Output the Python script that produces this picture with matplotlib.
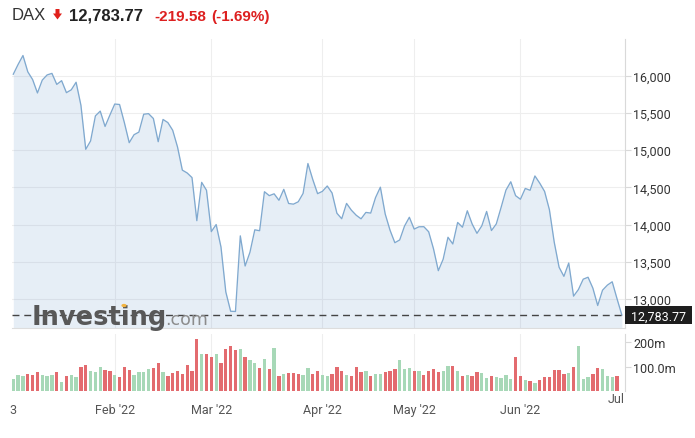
import matplotlib.pyplot as plt
from matplotlib.patches import Polygon, Rectangle, Circle
from matplotlib.transforms import blended_transform_factory
from matplotlib.ticker import FuncFormatter

# DAX daily closes, Jan 3 - Jun 30 2022
close = [
    16020, 16152, 16271, 16052, 15948, 15768, 15941, 16010, 16031, 15883,
    15933, 15772, 15810, 15912, 15603, 15011, 15123, 15460, 15524, 15318,
    15471,
    15619, 15613, 15368, 15100, 15207, 15242, 15482, 15490, 15425, 15113,
    15412, 15370, 15267, 15042, 14731, 14693, 14631, 14052, 14567, 14461,
    13905, 14000, 13698, 13094, 12835, 12832, 13848, 13443, 13628, 13929,
    13917, 14441, 14388, 14413, 14326, 14473, 14283, 14274, 14306, 14418,
    14820, 14606, 14415,
    14446, 14518, 14424, 14152, 14078, 14284, 14193, 14125, 14077, 14163,
    14154, 14362, 14502, 14142, 13924, 13756, 13793, 13979, 14098,
    13939, 13970, 13971, 13903, 13674, 13380, 13534, 13829, 13739, 14028,
    13964, 14185, 14008, 13882, 13982, 14176, 13919, 14008, 14231, 14462,
    14575, 14388,
    14340, 14485, 14460, 14653, 14556, 14445, 14199, 13762, 13427, 13304,
    13483, 13038, 13126, 13266, 13292, 13145, 12912, 13118, 13186, 13231,
    13003, 12783.77,
]

# volume in millions
volume = [
    49, 66, 63, 71, 67, 77, 66, 63, 67, 77, 38, 63, 67, 59, 97, 107, 81, 79,
    98, 85, 81, 67, 59, 100, 86, 67, 78, 79, 90, 94, 113, 77, 61, 72, 82, 70,
    107, 81, 213, 152, 152, 141, 152, 113, 171, 183, 168, 172, 138, 127, 113,
    94, 130, 90, 175, 63, 70, 72, 72, 70, 64, 93, 71,
    81, 66, 61, 71, 98, 81, 66, 61, 98, 77, 81, 61, 68, 71, 77, 81, 89, 126,
    90, 93, 81, 81, 67, 81, 89, 77, 81, 102, 102, 83, 61, 67, 61, 77, 75, 53,
    61, 57, 53, 66, 48, 139, 61, 45, 40, 31, 45, 57, 57, 85, 85, 71, 75, 100,
    183, 49, 57, 71, 94, 89, 61, 57, 61,
]
# bar colour per day: g = up, r = down
vol_dir = list(
    "gggrrrgggr" "grggrrgggr" "rgrrrggggr" "rgrrrrrrrg" "rrgrrrrgrg"
    "grgrgrgrrr" "ggrrggrrrg" "rrrgrggrrr" "gggrgrrrrg" "grgrgrrggr"
    "ggggrrgrgr" "rrrrrgrggg" "rrgggr"
)

month_pos = [0, 21, 41, 64, 83, 105]
month_labels = ["3", "Feb '22", "Mar '22", "Apr '22", "May '22", "Jun '22"]
price_ticks = [13000, 13500, 14000, 14500, 15000, 15500, 16000]

title_name = "DAX"
last_text = "12,783.77"
change_text = "-219.58"
pct_text = "(-1.69%)"

W, H = 695, 439


def fx(px):
    return px / W


def fy(py):
    return 1 - py / H


plt.rcParams["font.family"] = ["Roboto", "DejaVu Sans"]

fig = plt.figure(figsize=(6.95, 4.39), dpi=100)
ax = fig.add_axes([fx(12), fy(329), fx(625) - fx(12), fy(40) - fy(329)])
axv = fig.add_axes([fx(12), fy(392), fx(625) - fx(12), fy(335) - fy(392)])

line_c = "#80a9cf"
red = "#e36b6f"
green = "#a7d8b7"
grid_c = "#eeeeee"
spine_c = "#d9d9d9"

# price panel
xs = list(range(len(close)))
ax.plot(xs, close, color=line_c, lw=0.95, zorder=3)
ax.fill_between(xs, close, 12000, color="#5b8fc7", alpha=0.15, lw=0, zorder=2)
ax.set_ylim(12610, 16493)
ax.axhline(close[-1], color="#444444", lw=1.0, ls=(0, (5, 3.5)), zorder=4)

for a in (ax, axv):
    a.set_xlim(-0.27, 126.65)
    for s in ("left", "top"):
        a.spines[s].set_visible(False)
    a.spines["right"].set_color(spine_c)
    a.yaxis.tick_right()
    a.tick_params(axis="y", length=4, width=0.8, color=spine_c, pad=2,
                  labelsize=9, labelcolor="#333333")
    a.set_xticks(month_pos[1:])
    a.grid(axis="x", color=grid_c, lw=0.8, zorder=0)
    a.set_axisbelow(True)

ax.spines["bottom"].set_color("#dddddd")
ax.set_yticks(price_ticks)
ax.yaxis.set_major_formatter(FuncFormatter(lambda v, p: f"{v:,.0f}"))
ax.grid(axis="y", color=grid_c, lw=0.8, zorder=0)
ax.tick_params(axis="x", length=0, labelbottom=False)

# volume panel
vx = list(range(len(volume)))
vcols = [green if d == "g" else red for d in vol_dir]
axv.bar(vx, volume, width=0.68, color=vcols, lw=0, zorder=2)
axv.set_ylim(0, 233.6)
axv.set_yticks([100, 200])
axv.set_yticklabels(["100.0m", "200m"])
axv.spines["bottom"].set_visible(False)
axv.tick_params(axis="x", length=0, pad=9, labelsize=9, labelcolor="#555555")
axv.set_xticks(month_pos)
axv.set_xticklabels(month_labels)
axv.text(1.0, -0.02, "Jul", transform=axv.transAxes, ha="right", va="top",
         fontsize=9, color="#555555")
axv.xaxis.get_gridlines()[0].set_visible(False)

# last price badge
tr = blended_transform_factory(ax.transAxes, ax.transData)
bw = 67 / 613
bh = 9.2 / 0.07444
ax.add_patch(Rectangle((1.0, close[-1] - bh), bw, 2 * bh, transform=tr,
                       facecolor="#1e1e1e", edgecolor="none", clip_on=False, zorder=5))
ax.text(1.0 + bw / 2, close[-1], last_text, transform=tr, ha="center",
        va="center_baseline", color="white", fontsize=9, zorder=6, clip_on=False)

# watermark
fig.text(fx(32), fy(325), "Investing", fontsize=18.5, fontweight="heavy",
         family="DejaVu Sans", color="#585858", va="baseline", zorder=10)
fig.text(fx(165), fy(325), ".com", fontsize=12.5, family="DejaVu Sans",
         color="#8c8c8c", va="baseline", zorder=10)
fig.add_artist(Circle((fx(124), fy(306.5)), 2.6 / W, transform=fig.transFigure,
                      facecolor="#f2b441", edgecolor="none", zorder=11))

# header
fig.text(fx(11.5), fy(20.5), title_name, fontsize=12, family="Liberation Sans",
         color="#333333", va="baseline")
arrow = [(55.5, 10), (59.5, 10), (59.5, 14.5), (62, 14.5), (57.5, 20.5),
         (53, 14.5), (55.5, 14.5)]
fig.add_artist(Polygon([(fx(a), fy(b)) for a, b in arrow], closed=True,
                       transform=fig.transFigure, facecolor="#e0201b",
                       edgecolor="none"))
fig.text(fx(69.5), fy(20.7), last_text, fontsize=12, fontweight="bold",
         family="Liberation Sans", color="#222222", va="baseline")
fig.text(fx(154), fy(21), change_text, fontsize=11, fontweight="bold",
         family="Liberation Sans", color="#dd2020", va="baseline")
fig.text(fx(211.5), fy(21), pct_text, fontsize=11, fontweight="bold",
         family="Liberation Sans", color="#dd2020", va="baseline")

fig.savefig("out.png", dpi=100)
